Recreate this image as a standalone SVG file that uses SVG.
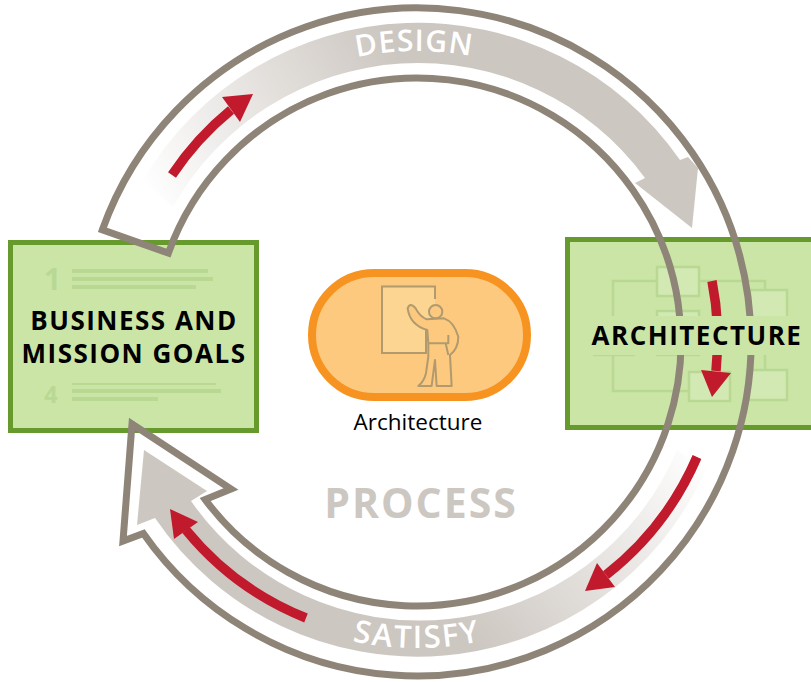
<svg xmlns="http://www.w3.org/2000/svg" width="811" height="682" viewBox="0 0 811 682">
<style>
.box{fill:#cbe5a7;stroke:#669a2c;stroke-width:5}
.ghost{fill:none;stroke:#b9d993;stroke-width:2.5}
.ghostf{fill:#d3e9b4;stroke:#b9d993;stroke-width:2.5}
.gl{fill:#b9d993}
.num{font:700 30px "Open Sans",sans-serif;fill:#b9d993}
.title{font:700 26px "Open Sans",sans-serif;fill:#000;text-anchor:middle;letter-spacing:1.5px}
.band{font:600 30px "Open Sans",sans-serif;fill:#fff;letter-spacing:1px;text-anchor:middle}
.red{fill:none;stroke:#c01a2c;stroke-width:9.500}
.redh{fill:#c01a2c}
</style>
<defs>
<linearGradient id="gUp" gradientUnits="userSpaceOnUse" x1="150" y1="200" x2="400" y2="60">
<stop offset="0" stop-color="#cdc7c1" stop-opacity="0"/><stop offset="1" stop-color="#cdc7c1"/></linearGradient>
<linearGradient id="gLow" gradientUnits="userSpaceOnUse" x1="700" y1="450" x2="470" y2="640">
<stop offset="0" stop-color="#cdc7c1" stop-opacity="0"/><stop offset="1" stop-color="#cdc7c1"/></linearGradient>
<path id="pTop" d="M126,342 A291,291 0 0 1 708,342"/>
<path id="pBot" d="M111,342 A306,306 0 0 0 723,342"/>
</defs>
<rect width="811" height="682" fill="#fff"/>
<g id="node-business">
<rect class="box" x="10.500" y="242.500" width="246" height="188"/>
<text class="num" x="44" y="290">1</text>
<rect class="gl" x="72" y="269" width="136" height="4"/>
<rect class="gl" x="72" y="277" width="141" height="4"/>
<rect class="gl" x="72" y="285" width="124" height="4"/>
<text class="num" x="44" y="403" style="font-size:24px">4</text>
<rect class="gl" x="72" y="383" width="144" height="2"/>
<rect class="gl" x="72" y="389" width="149" height="4"/>
<rect class="gl" x="72" y="397" width="86" height="4"/>
<text class="title" x="134" y="330">BUSINESS AND</text>
<text class="title" x="134" y="363">MISSION GOALS</text>
</g>
<g id="node-architecture">
<rect class="box" x="567.500" y="239.500" width="260" height="188"/>
<path class="ghost" d="M613,316V281H765V290M613,355V391H690M765,355V370M593,355H635"/>
<rect class="ghostf" x="657" y="267" width="42" height="29"/>
<rect class="ghostf" x="657" y="311" width="42" height="44"/>
<rect class="ghostf" x="750" y="290" width="37" height="40"/>
<rect class="ghostf" x="689" y="372" width="41" height="29"/>
<rect class="ghostf" x="747" y="370" width="40" height="30"/>
</g>
<g id="connectors">
<path d="M143,180 A319,319 0 0 1 680,160 L688,157 L698,168 L692,228 L635,183 L645,178 A281,281 0 0 0 173,207 Z" fill="url(#gUp)"/>
<path d="M706,470 A317,317 0 0 1 155,518 L137,525 L144,450 L207,491 L191,501 A279,279 0 0 0 677,450 Z" fill="url(#gLow)"/>
<path d="M102.400,229.800 A334,334 0 1 1 143.400,533.500 L123,541 L132,424 L231,489 L205.200,499.600 A264,264 0 1 0 168.400,253.100 Z" fill="none" stroke="#8e8578" stroke-width="7" stroke-linejoin="miter"/>
<path class="red" d="M172,175 A297,297 0 0 1 231,110"/>
<polygon class="redh" points="222,97 253,94 240,122"/>
<path class="red" d="M712,281 A300,300 0 0 1 716,371"/>
<polygon class="redh" points="701,370 731,373 712,397"/>
<path class="red" d="M697,457 A301,301 0 0 1 606,575"/>
<polygon class="redh" points="597,563 615,587 585,591"/>
<path class="red" d="M306,618 A298,298 0 0 1 186,530"/>
<polygon class="redh" points="198,522 174,539 170,509"/>
<text class="band"><textPath href="#pTop" startOffset="49.700%">DESIGN</textPath></text>
<text class="band" style="font-size:31px;letter-spacing:2px"><textPath href="#pBot" startOffset="50%">SATISFY</textPath></text>
</g>
<g id="node-architecture-label">
<rect x="570" y="316" width="241" height="39" fill="#cbe5a7"/>
<text class="title" x="697" y="345">ARCHITECTURE</text>
</g>
<g id="node-role">
<rect x="312" y="273" width="215" height="124" rx="62" fill="#fdc97f" stroke="#f79421" stroke-width="8"/>
<path d="M435,299V286.500H382V353H426V320H435" fill="#fdd592" stroke="#b09a6e" stroke-width="2"/>
<g transform="translate(300 260) scale(.3333)" fill="#fdc97f" stroke="#b09a6e" stroke-width="6" stroke-linejoin="round">
<path d="M323,145 Q330,125 347,145 Q358,168 380,178 L432,175 Q462,185 475,230 Q475,265 450,285 L455,378 H410 L405,300 L395,378 H355 Q372,365 378,340 L385,290 V250 L382,210 Q330,195 323,145 Z"/>
<circle cx="407" cy="155" r="20"/>
<path d="M385,250H445V225M445,285L437,250" fill="none"/>
</g>
<text x="418" y="430" text-anchor="middle" style="font:400 22.500px 'Open Sans',sans-serif" fill="#000">Architecture</text>
</g>
<text x="421" y="518" text-anchor="middle" style="font:700 41px 'Open Sans',sans-serif;letter-spacing:2px" fill="#cdc7c1">PROCESS</text>
</svg>
